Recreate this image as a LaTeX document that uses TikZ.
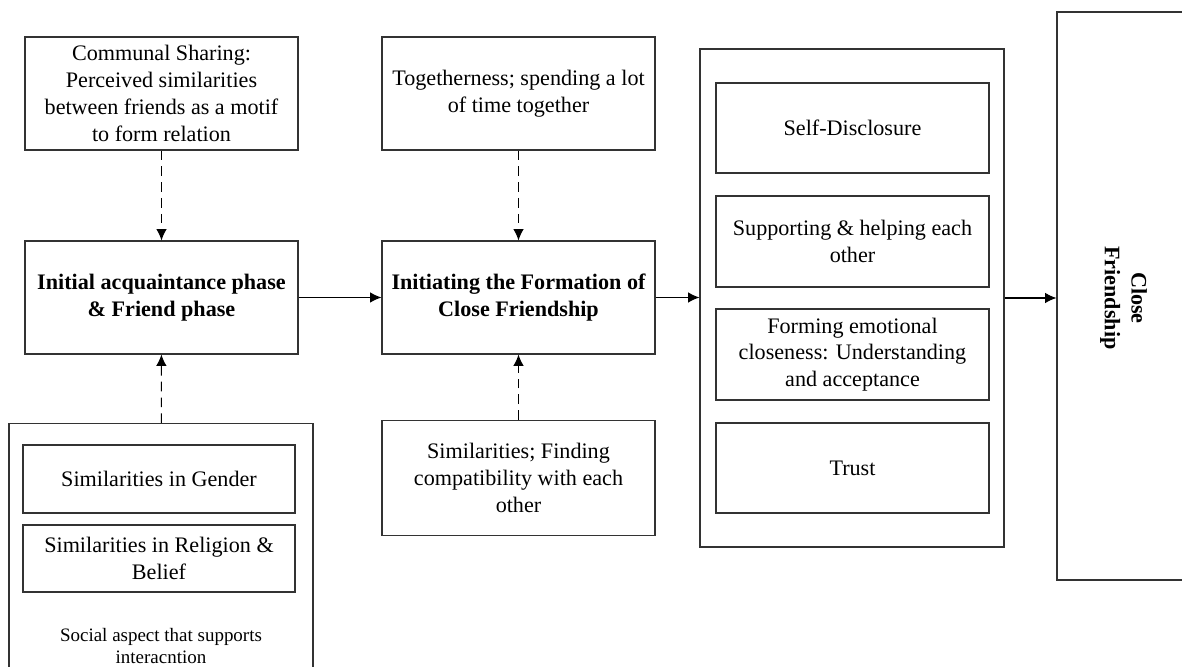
\documentclass[tikz,border=0pt]{standalone}
\usepackage{fontspec}
\setmainfont{Liberation Serif}
\usetikzlibrary{arrows.meta}

\begin{document}
\begin{tikzpicture}[>={Latex[length=6.5pt,width=6pt]},line width=0.6pt,
	box/.style={draw=black!80,align=center,inner sep=2pt,minimum width=5.46cm,font=\fontsize{12.6}{15.2}\selectfont},
	phase/.style={box,minimum height=2.26cm,font=\fontsize{12.6}{15.2}\selectfont\bfseries},
	dasharrow/.style={->,dash pattern=on 5.5pt off 3.5pt}]

\useasboundingbox (0,0) rectangle (23.64,13.34);

\node[box,minimum height=2.26cm] (comm) at (3.23,11.47)
	{Communal Sharing:\\Perceived similarities\\between friends as a motif\\to form relation};
\node[phase] (init) at (3.23,7.39) {Initial acquaintance phase\\\& Friend phase};

\node[box,minimum width=6.08cm,minimum height=6.6cm,anchor=north] (social) at (3.22,4.88) {};
\node[box,minimum width=5.44cm,minimum height=1.36cm] (gender) at (3.18,3.76) {Similarities in Gender};
\node[box,minimum width=5.44cm,minimum height=1.34cm] (relig) at (3.18,2.17) {Similarities in Religion \&\\Belief};
\node[align=center,font=\fontsize{10.8}{13}\selectfont] (aspect) at (3.22,0.42)
	{Social aspect that supports\\interacntion};

\node[box,minimum height=2.26cm] (tog) at (10.37,11.47) {Togetherness; spending a lot\\of time together};
\node[phase] (form) at (10.37,7.39) {Initiating the Formation of\\Close Friendship};
\node[box,minimum height=2.3cm] (simil) at (10.37,3.78) {Similarities; Finding\\compatibility with each\\other};

\node[box,minimum width=6.08cm,minimum height=9.96cm] (group) at (17.04,7.38) {};
\node[box,minimum height=1.8cm] (self) at (17.05,10.78) {Self-Disclosure};
\node[box,minimum height=1.82cm] (supp) at (17.05,8.51) {Supporting \& helping each\\other};
\node[box,minimum height=1.82cm] (emot) at (17.05,6.25) {Forming emotional\\closeness: Understanding\\and acceptance};
\node[box,minimum height=1.8cm] (trust) at (17.05,3.98) {Trust};

\node[box,minimum width=2.66cm,minimum height=11.36cm] (close) at (22.47,7.42) {};
\node[rotate=-90,align=center,font=\fontsize{12.6}{15.2}\selectfont\bfseries] (closetext) at (22.47,7.38)
	{Close\\Friendship};

\draw[dasharrow] (comm) -- (init);
\draw[dasharrow] (social) -- (init);
\draw[dasharrow] (tog) -- (form);
\draw[dasharrow] (simil) -- (form);

\draw[->] (init) -- (form);
\draw[->] (form.east) -- (form.east -| group.west);
\draw[->] (group.east) -- (group.east -| close.west);

\end{tikzpicture}
\end{document}
